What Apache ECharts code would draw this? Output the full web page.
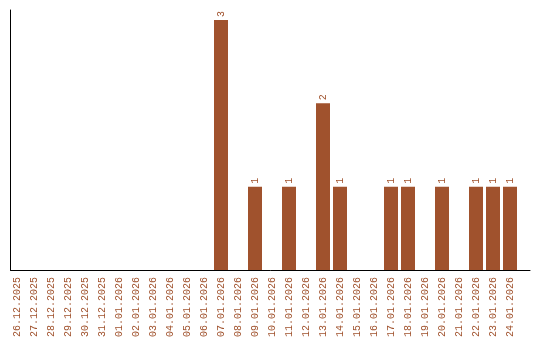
<!DOCTYPE html>
<html>
<head>
<meta charset="utf-8">
<script src="https://cdn.jsdelivr.net/npm/echarts@6/dist/echarts.min.js"></script>
<style>html,body{margin:0;padding:0;background:#fff}#c{width:540px;height:340px}</style>
</head>
<body>
<div id="c"></div>
<script>
var categories = ["26.12.2025","27.12.2025","28.12.2025","29.12.2025","30.12.2025","31.12.2025","01.01.2026","02.01.2026","03.01.2026","04.01.2026","05.01.2026","06.01.2026","07.01.2026","08.01.2026","09.01.2026","10.01.2026","11.01.2026","12.01.2026","13.01.2026","14.01.2026","15.01.2026","16.01.2026","17.01.2026","18.01.2026","19.01.2026","20.01.2026","21.01.2026","22.01.2026","23.01.2026","24.01.2026"];
var values = [0,0,0,0,0,0,0,0,0,0,0,0,3,0,1,0,1,0,2,1,0,0,1,1,0,1,0,1,1,1];
var color = '#A0522D';
var font = 'Liberation Mono';
var chart = echarts.init(document.getElementById('c'), null, {renderer:'canvas'});
chart.setOption({
  animation:false,
  grid:[
    {left:8.5, width:510, top:10, height:260},
    {left:10.5, width:519.5, top:10, height:260}
  ],
  xAxis:[
    {type:'category', gridIndex:0, data:categories, boundaryGap:true,
     axisLine:{show:false}, axisTick:{show:false},
     axisLabel:{interval:0, rotate:90, margin:7, color:color, fontFamily:font, fontSize:10}},
    {type:'value', gridIndex:1, min:0, max:1, axisLine:{show:true, onZero:false, lineStyle:{color:'#000', width:1}},
     axisTick:{show:false}, axisLabel:{show:false}, splitLine:{show:false}}
  ],
  yAxis:[
    {type:'value', gridIndex:0, min:0, max:3.12, axisLine:{show:false}, axisTick:{show:false}, axisLabel:{show:false}, splitLine:{show:false}},
    {type:'value', gridIndex:1, min:0, max:1, axisLine:{show:true, onZero:false, lineStyle:{color:'#000', width:1}},
     axisTick:{show:false}, axisLabel:{show:false}, splitLine:{show:false}}
  ],
  series:[{
    type:'bar', xAxisIndex:0, yAxisIndex:0, data:values, barWidth:14,
    itemStyle:{color:color},
    label:{show:true, position:'top', rotate:90, align:'left', verticalAlign:'middle', distance:3,
      color:color, fontFamily:font, fontSize:10,
      formatter:function(p){return p.value ? String(p.value) : '';}}
  }]
});
</script>
</body>
</html>
